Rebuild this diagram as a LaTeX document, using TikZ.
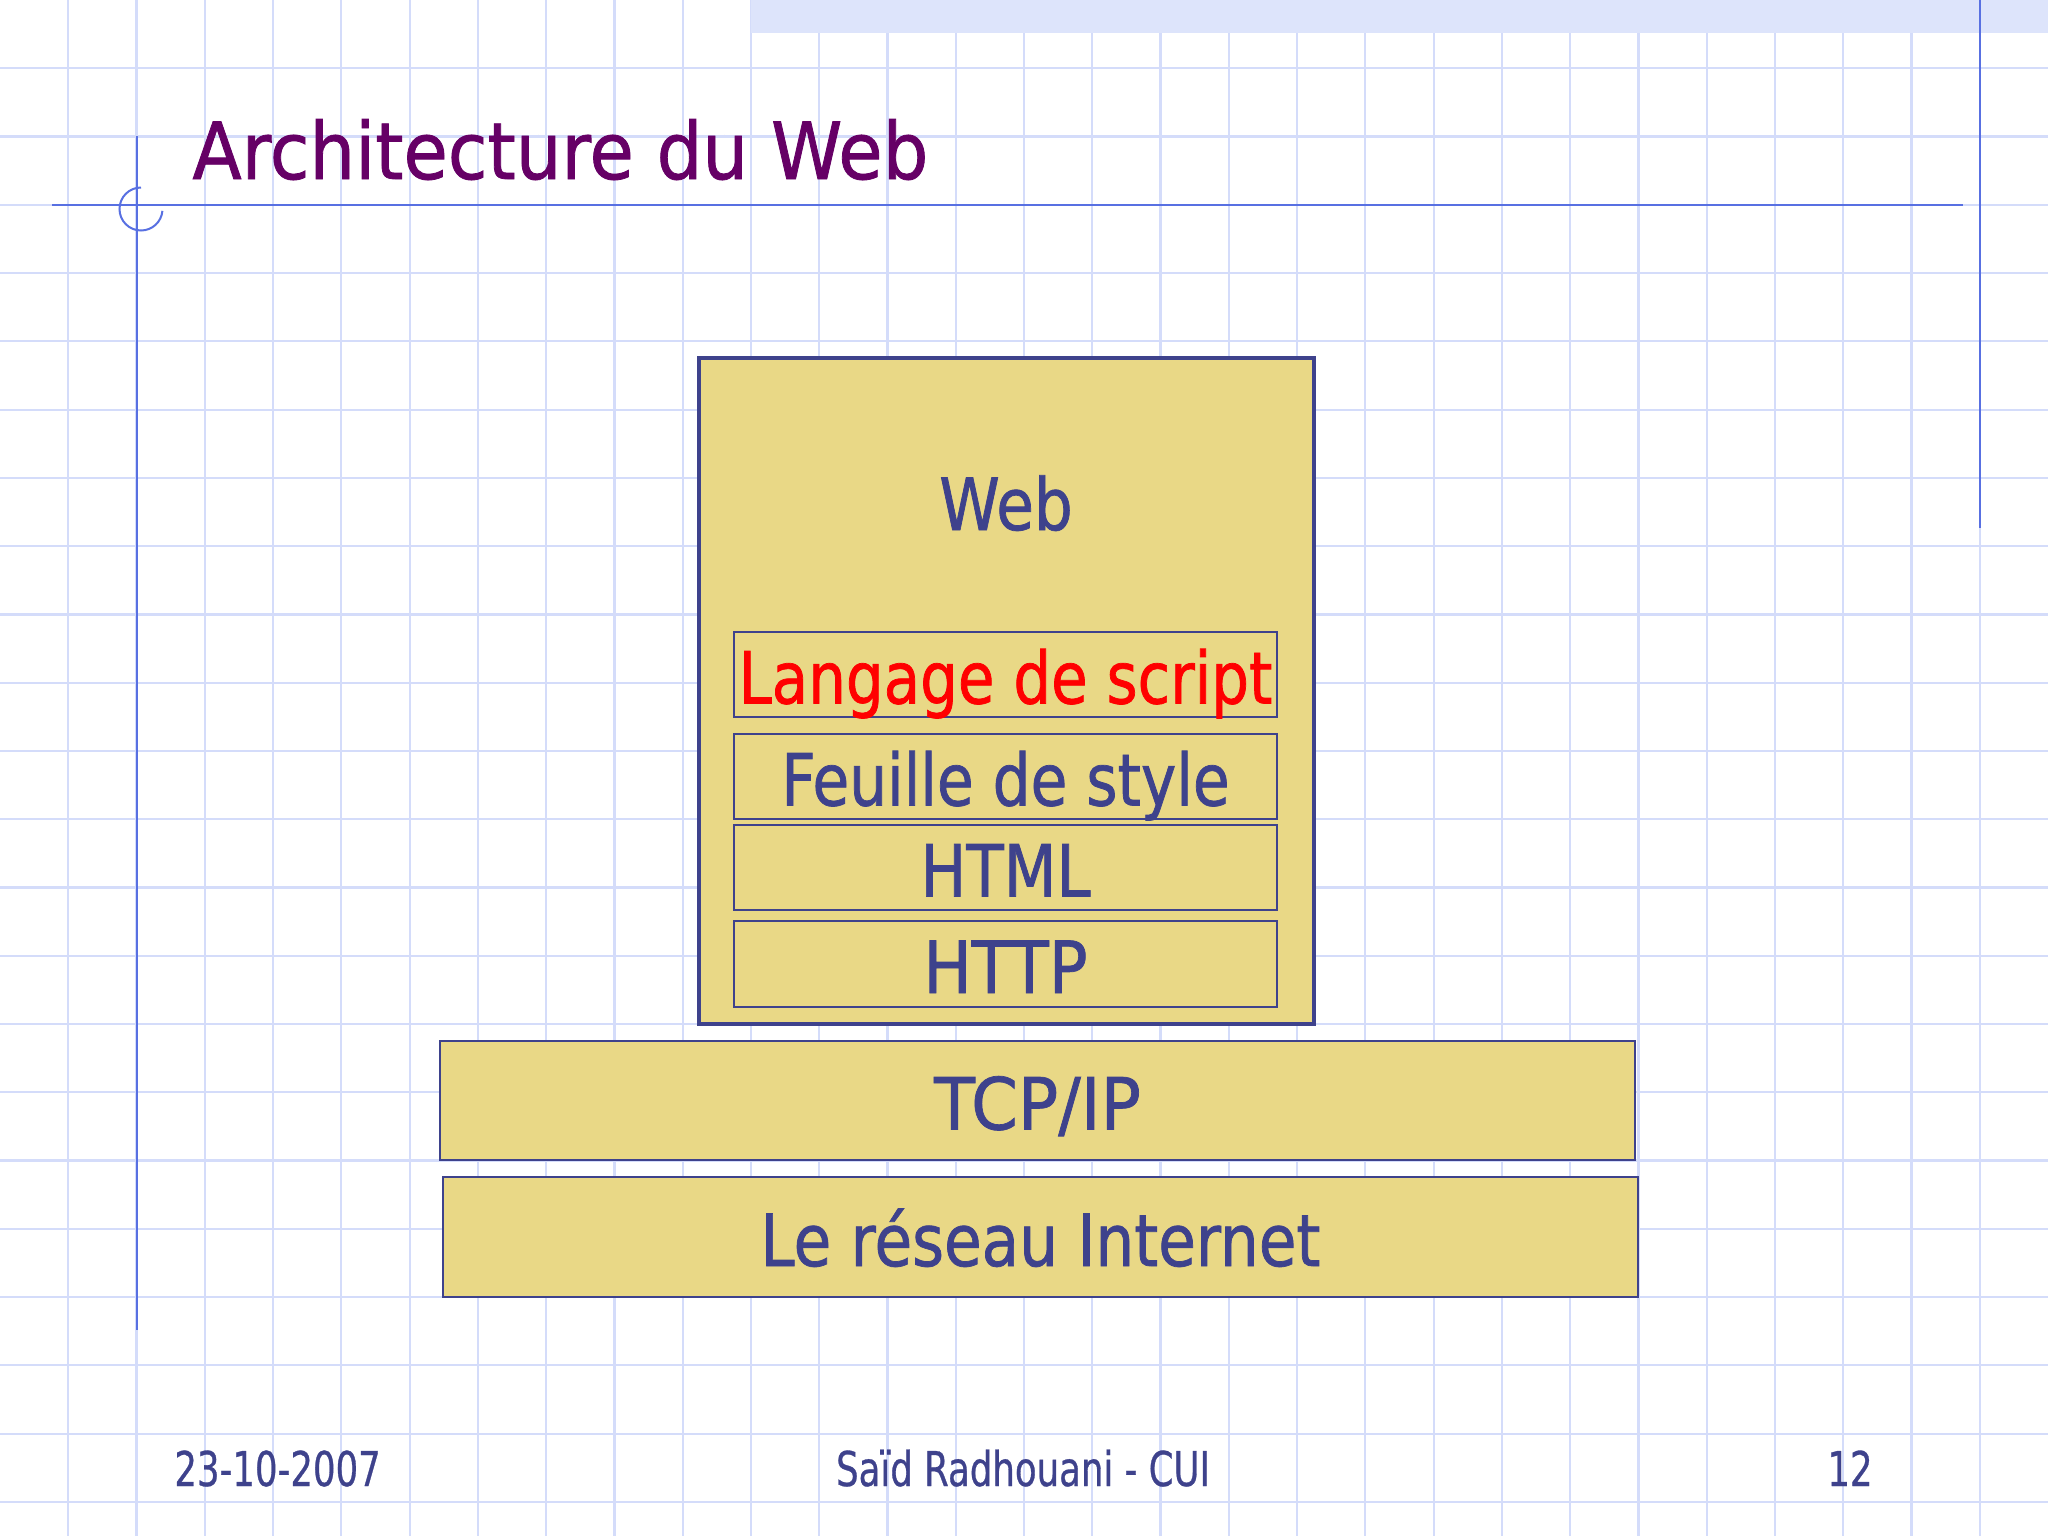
\documentclass[tikz,border=0pt]{standalone}
\usepackage{fontspec}
\setmainfont{DejaVu Sans}[FakeStretch=0.85,FakeBold=1]
\newfontfamily\titlefont{DejaVu Sans}[FakeStretch=0.915,FakeBold=1]
\newfontfamily\footfont{DejaVu Sans}[FakeStretch=0.74,FakeBold=0.6]
\newfontfamily\narrowfont{DejaVu Sans}[FakeStretch=0.826,FakeBold=1]
\newfontfamily\cssfont{DejaVu Sans}[FakeStretch=0.83,FakeBold=1]
\newfontfamily\httpfont{DejaVu Sans}[FakeStretch=0.89,FakeBold=1]
\newfontfamily\tcpfont{DejaVu Sans}[FakeStretch=0.93,FakeBold=1]
\definecolor{gridc}{RGB}{212,220,250}
\definecolor{rulec}{RGB}{88,112,226}
\definecolor{bandc}{RGB}{221,228,251}
\definecolor{navy}{RGB}{62,66,140}
\definecolor{sand}{RGB}{233,216,134}
\definecolor{titlec}{RGB}{102,0,102}
\tikzset{
  gridline/.style={draw=gridc, line width=1.1pt},
  marginrule/.style={draw=rulec, line width=1pt},
  layer/.style={draw=navy, fill=sand, line width=1pt, inner sep=0pt,
    text height=29pt, text depth=0pt, text=navy,
    font=\fontsize{36pt}{40pt}\selectfont},
  foot/.style={inner sep=0pt, text=navy, font=\footfont\fontsize{24pt}{28pt}\selectfont}
}
\begin{document}
\begin{tikzpicture}[x=0.5pt,y=-0.5pt]
\fill[white] (0,0) rectangle (2048,1536);
\useasboundingbox (0,0) rectangle (2048,1536);
% grid
\foreach \k in {1,...,29} \draw[gridline] ({\k*68.2667},0) -- ({\k*68.2667},1536);
\foreach \k in {1,...,22} \draw[gridline] (0,{\k*68.2667}) -- (2048,{\k*68.2667});
% top band
\fill[bandc] (751,0) rectangle (2048,33);
% margin rules
\draw[marginrule] (52,204.8) -- (1963,204.8);
\draw[marginrule] (136.5,136) -- (136.5,1330);
\draw[marginrule] (1979.7,0) -- (1979.7,528);
\draw[marginrule] (141,187.5) arc[start angle=90, end angle=355, radius=10.75pt];
% title
\node[anchor=base west, inner sep=0pt, text=titlec,
  font=\titlefont\fontsize{39.4pt}{44pt}\selectfont] (title) at (192,179) {Architecture du Web};
% web stack
\node[draw=navy, fill=sand, line width=2.2pt, minimum width=307.5pt,
  minimum height=333pt, inner sep=0pt] (web) at (1006.5,691) {};
\node[anchor=base, inner sep=0pt, text=navy, font=\fontsize{36pt}{40pt}\selectfont]
  (webt) at (1006,530) {Web};
\node[layer, minimum width=271.5pt, minimum height=42.5pt, text=red]
  (script) at (1005.5,674.5) {\makebox[0pt]{\narrowfont Langage de script}};
\node[layer, minimum width=271.5pt, minimum height=42.5pt]
  (css) at (1005.5,776.5) {\makebox[0pt]{\cssfont Feuille de style}};
\node[layer, minimum width=271.5pt, minimum height=42.5pt]
  (html) at (1005.5,867.5) {HTML};
\node[layer, minimum width=271.5pt, minimum height=43pt]
  (http) at (1005.5,964) {\httpfont HTTP};
\node[layer, minimum width=597.5pt, minimum height=59.5pt]
  (tcp) at (1037.5,1100.5) {\tcpfont TCP/IP};
\node[layer, minimum width=597.5pt, minimum height=60pt]
  (net) at (1040.5,1237) {Le réseau Internet};
% footer
\node[foot, anchor=base west] (date) at (174,1486) {23-10-2007};
\node[foot, anchor=base] (author) at (1023,1486) {Saïd Radhouani - CUI};
\node[foot, anchor=base east] (page) at (1873,1486) {12};
\end{tikzpicture}
\end{document}
